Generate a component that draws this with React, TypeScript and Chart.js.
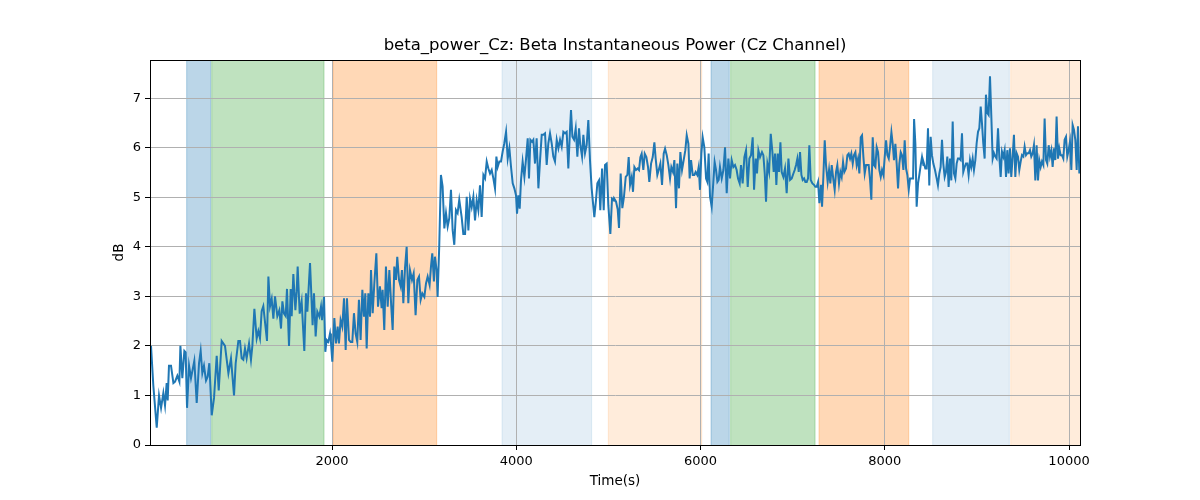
import { useEffect, useRef } from "react";
import { Chart, registerables } from "chart.js";
Chart.register(...registerables);

// time (s) and beta power (dB)
const times = [
  35, 60, 97, 122, 144, 169, 187, 205, 216, 230, 252, 278, 296, 321, 343, 354, 375, 397, 411, 426,
  448, 469, 505, 531, 556, 574, 592, 610, 632, 650, 668, 694, 719, 748, 770, 802, 838, 875, 903, 936,
  954, 983, 1001, 1019, 1037, 1055, 1073, 1099, 1120, 1135, 1157, 1182, 1200, 1218, 1236, 1254, 1294, 1309, 1327, 1345,
  1363, 1381, 1406, 1428, 1446, 1461, 1479, 1497, 1511, 1533, 1551, 1562, 1580, 1602, 1616, 1627, 1649, 1670, 1699,
  1717, 1732, 1761, 1789, 1804, 1822, 1840, 1862, 1880, 1891, 1913, 1927, 1941, 1960, 1978, 1988, 2003, 2025, 2043, 2061,
  2075, 2093, 2111, 2130, 2148, 2162, 2184, 2202, 2220, 2238, 2256, 2274, 2292, 2310, 2329, 2347, 2361, 2376, 2394, 2412,
  2423, 2441, 2459, 2481, 2499, 2520, 2538, 2549, 2567, 2585, 2604, 2622, 2643, 2658, 2676, 2694, 2708, 2727, 2745, 2759,
  2774, 2792, 2810, 2828, 2846, 2868, 2886, 2907, 2926, 2944, 2962, 2980, 3002, 3020, 3038, 3059, 3074, 3088, 3106, 3117,
  3135, 3146, 3164, 3182, 3200, 3219, 3237, 3255, 3273, 3291, 3309, 3327, 3345, 3363, 3381,
  3389, 3407, 3425, 3444, 3462, 3480, 3498, 3516, 3534, 3552, 3570, 3588, 3606, 3624, 3643, 3661, 3679, 3697, 3715, 3733,
  3751, 3769, 3784, 3798, 3816, 3834, 3852, 3870, 3889, 3907, 3925, 3943, 3961, 3979, 3997, 4008, 4022, 4037, 4051, 4069,
  4088, 4106, 4124, 4138, 4153, 4171, 4185, 4203, 4221, 4240, 4258, 4276, 4294, 4312, 4330, 4348, 4366, 4384, 4402, 4420,
  4439, 4457, 4475, 4493, 4511, 4529, 4547, 4565, 4583, 4594, 4609, 4627, 4645, 4663, 4681, 4695, 4714, 4728, 4746, 4764,
  4782, 4800, 4818, 4847, 4865, 4880, 4898, 4912, 4931, 4949, 4963, 4981, 4999, 5021, 5039, 5057,
  5061, 5083, 5101, 5115, 5133, 5151, 5169, 5188, 5206, 5220, 5235, 5253, 5267, 5282, 5300, 5318, 5332, 5347, 5361, 5379,
  5394, 5412, 5430, 5444, 5463, 5481, 5499, 5513, 5531, 5546, 5564, 5582, 5600, 5615, 5633, 5651, 5669, 5683, 5701, 5716,
  5734, 5748, 5766, 5781, 5799, 5817, 5835, 5850, 5868, 5882, 5897, 5915, 5933, 5947, 5965, 5980, 5994, 6009, 6023, 6041,
  6060, 6074, 6088, 6103, 6121, 6139, 6153, 6168, 6183, 6197, 6211, 6230, 6248, 6266, 6284, 6302, 6320, 6338, 6356, 6374,
  6392, 6407, 6425, 6439, 6457, 6476, 6494, 6512, 6530, 6548, 6566, 6581, 6599, 6613, 6628, 6646, 6667, 6682,
  6697, 6711, 6726, 6744, 6762, 6780, 6794, 6809, 6823, 6838, 6852, 6867, 6881, 6899, 6917, 6935, 6954, 6972, 6990, 7008,
  7022, 7037, 7051, 7066, 7080, 7095, 7109, 7124, 7138, 7153, 7167, 7181, 7196, 7214, 7232, 7247, 7261, 7276, 7290, 7308,
  7319, 7333, 7348, 7362, 7380, 7395, 7409, 7424, 7442, 7456, 7471, 7485, 7503, 7518, 7532, 7547, 7561, 7579, 7594, 7608,
  7623, 7637, 7652, 7666, 7681, 7695, 7710, 7724, 7739, 7753, 7768, 7782, 7797, 7811, 7825, 7840, 7854, 7869, 7883, 7898,
  7912, 7927, 7941, 7956, 7970, 7985, 7999, 8014, 8028, 8043, 8057, 8072, 8086, 8100, 8115, 8129, 8144, 8158, 8173, 8187,
  8202, 8216, 8231, 8245, 8260, 8274, 8292, 8307, 8318, 8332, 8346, 8361, 8375, 8390, 8404, 8419,
  8425, 8440, 8454, 8469, 8483, 8498, 8512, 8527, 8545, 8563, 8577, 8592, 8606, 8621, 8635, 8650, 8664, 8679, 8693, 8708,
  8722, 8737, 8751, 8766, 8780, 8794, 8809, 8823, 8838, 8852, 8867, 8881, 8896, 8910, 8925, 8939, 8954, 8968, 8983, 8997,
  9012, 9026, 9041, 9055, 9069, 9084, 9098, 9113, 9127, 9142, 9156, 9171, 9185, 9200, 9214, 9229, 9243, 9258, 9272, 9287,
  9301, 9316, 9330, 9344, 9359, 9373, 9388, 9402, 9417, 9431, 9446, 9460, 9475, 9489, 9504, 9518, 9533, 9547, 9562, 9576,
  9590, 9605, 9619, 9634, 9648, 9663, 9677, 9692, 9706, 9721, 9735, 9750, 9764, 9779, 9793, 9808, 9822, 9837, 9851, 9865,
  9880, 9894, 9909, 9923, 9938, 9952, 9967, 9981, 9996, 10010, 10025, 10039, 10054, 10068, 10083, 10097, 10112,
];

const dbValues = [
  2.0, 1.2, 0.35, 1.0, 0.75, 1.05, 0.8, 1.25, 0.9, 1.6, 1.6, 1.25, 1.28, 1.4, 1.28, 2.0, 1.35, 1.9, 1.87, 0.75,
  1.6, 1.35, 1.7, 0.85, 1.65, 1.9, 1.45, 1.6, 1.3, 1.38, 1.65, 0.6, 0.95, 1.8, 1.1, 2.1, 2.0, 1.45, 1.75, 1.0,
  1.65, 2.1, 2.1, 1.75, 1.72, 1.95, 1.75, 2.05, 1.72, 2.0, 2.75, 2.15, 2.3, 2.15, 2.7, 2.8, 2.1, 3.4, 2.8, 2.95,
  2.55, 3.0, 2.6, 2.72, 2.35, 2.9, 2.65, 2.6, 3.15, 2.0, 3.15, 2.6, 3.45, 2.72, 3.1, 3.6, 2.65, 2.9, 1.9,
  3.06, 2.69, 3.67, 2.42, 3.06, 2.19, 2.69, 2.59, 2.79, 2.52, 2.99, 1.88, 2.12, 2.08, 2.25, 2.08, 1.68, 2.56, 2.05, 2.39,
  2.05, 2.52, 2.39, 2.96, 1.92, 2.96, 2.12, 2.08, 2.08, 2.66, 2.25, 2.08, 2.93, 2.12, 3.13, 2.59, 3.06, 1.95, 3.06, 2.59,
  3.53, 2.66, 3.26, 3.87, 2.79, 3.2, 2.76, 3.13, 2.32, 3.6, 2.79, 3.53, 2.79, 2.32, 3.6, 3.33, 3.8, 3.33, 3.2, 3.53,
  2.86, 3.57, 4.0, 2.86, 3.53, 3.33, 3.46, 2.62, 3.33, 3.4, 2.93, 3.06, 2.99, 3.26, 3.4, 3.23, 3.6, 3.87, 3.3, 3.8,
  3.53, 2.99, 4.04, 5.45, 5.22, 4.37, 4.68, 4.41, 4.58, 5.15, 4.34, 4.04, 4.74, 4.68, 4.95,
  4.84, 4.6, 4.26, 4.26, 5.01, 4.33, 4.97, 4.8, 5.01, 4.53, 4.94, 4.74, 5.24, 4.6, 5.45, 5.38, 5.72, 5.58, 5.48, 5.55,
  5.38, 5.18, 5.82, 5.61, 5.72, 5.72, 5.92, 6.09, 6.32, 5.78, 5.99, 5.61, 5.28, 5.18, 5.04, 4.67, 5.04, 4.77, 5.34, 5.72,
  5.41, 5.78, 6.19, 5.38, 6.16, 6.12, 6.16, 5.68, 6.19, 5.18, 5.75, 6.26, 6.26, 6.29, 5.65, 6.09, 6.29, 6.09, 5.82, 5.72,
  6.16, 5.99, 6.16, 6.02, 6.32, 6.29, 6.32, 5.58, 6.36, 6.76, 6.22, 6.16, 6.39, 5.82, 6.39, 6.05, 5.82, 6.26, 5.89, 6.05,
  6.56, 5.75, 5.18, 4.6, 4.94, 5.28, 5.34, 4.74, 5.58, 4.74, 5.65, 5.68, 4.84, 4.26, 4.97, 4.94,
  4.98, 4.91, 4.75, 4.38, 5.48, 4.78, 5.01, 5.41, 5.45, 5.81, 5.25, 5.41, 5.11, 5.61, 5.55, 5.58, 5.55, 5.81, 5.88, 5.55,
  5.88, 5.81, 5.61, 5.31, 5.68, 5.81, 6.11, 5.78, 5.45, 5.55, 5.68, 5.25, 5.88, 5.98, 5.85, 5.65, 5.38, 5.61, 5.51, 5.75,
  4.78, 5.68, 5.18, 5.91, 5.55, 5.75, 5.95, 6.25, 6.08, 5.38, 5.75, 5.45, 5.45, 5.51, 5.45, 5.61, 5.15, 5.88, 6.21, 6.01,
  5.38, 5.31, 5.88, 5.01, 4.81, 5.31, 5.71, 5.55, 5.31, 5.35, 5.61, 5.38, 5.55, 6.01, 5.08, 5.78, 5.38, 5.75, 5.61, 5.65,
  5.55, 5.38, 5.28, 5.65, 5.28, 5.81, 5.95, 5.21, 5.78, 5.85, 6.21, 5.15, 5.78, 5.48, 5.95, 5.81, 5.91, 5.85,
  5.48, 4.91, 5.68, 5.51, 6.28, 5.91, 5.51, 5.88, 5.25, 5.88, 5.51, 6.11, 5.51, 5.41, 5.58, 5.08, 5.78, 5.35, 5.38, 5.48,
  5.55, 5.65, 5.78, 5.51, 5.91, 5.45, 5.35, 5.38, 5.31, 5.31, 5.38, 6.05, 5.35, 5.28, 5.25, 5.21, 5.21, 5.31, 4.88, 5.25,
  4.81, 5.41, 6.15, 5.65, 5.31, 5.55, 5.28, 5.65, 5.35, 5.15, 5.51, 5.65, 5.28, 5.51, 5.41, 5.71, 5.51, 5.58, 5.85, 5.88,
  5.78, 5.88, 5.68, 5.85, 5.91, 5.65, 5.78, 5.48, 6.21, 6.25, 5.81, 5.48, 5.65, 5.65, 5.65, 5.35, 4.95, 6.21, 5.65, 5.61,
  6.01, 5.91, 5.55, 5.41, 5.55, 5.45, 5.81, 6.15, 5.85, 5.78, 6.01, 6.31, 6.08, 5.75, 6.08, 5.68, 5.18, 5.68, 5.91, 5.85,
  5.55, 6.15, 5.58, 5.45, 5.15, 5.38, 5.38, 5.38, 6.58, 6.08, 4.81, 5.28, 5.45, 5.65, 5.81, 5.65,
  5.68, 5.58, 5.58, 6.39, 5.24, 6.22, 5.85, 5.68, 5.55, 5.38, 5.24, 5.48, 5.61, 6.16, 5.68, 5.41, 5.51, 5.82, 5.21, 5.78,
  5.34, 6.53, 5.48, 5.38, 5.68, 5.78, 5.78, 5.75, 6.29, 5.51, 5.61, 5.68, 5.68, 5.45, 5.75, 5.61, 5.78, 5.55, 5.75, 6.09,
  6.32, 6.39, 6.83, 6.49, 6.09, 5.78, 7.07, 6.7, 6.66, 7.44, 6.66, 5.78, 5.89, 5.82, 5.78, 6.39, 5.82, 5.41, 5.92, 5.82,
  5.95, 5.41, 5.95, 5.48, 5.99, 5.41, 5.82, 6.26, 5.41, 5.89, 5.82, 5.55, 5.72, 5.85, 5.82, 6.02, 5.85, 5.89, 5.89, 5.95,
  5.82, 5.89, 6.05, 5.34, 6.05, 5.34, 5.75, 5.61, 5.72, 5.65, 6.59, 5.75, 5.68, 6.05, 5.82, 5.95, 5.61, 5.99, 5.75, 6.63,
  5.78, 5.99, 5.85, 5.85, 5.78, 6.16, 6.22, 5.82, 5.95, 6.12, 5.55, 6.46, 6.36, 6.16, 5.55, 6.43, 5.48,
];

// shaded condition blocks (s)
const spanStarts = [422, 694, 2014, 3845, 4999, 6114, 6327, 7286, 8520, 9367];
const spanEnds = [683, 1913, 3136, 4818, 6013, 6312, 7243, 8260, 9352, 10200];
const spanColors = [
  "rgba(31,119,180,0.3)",
  "rgba(44,160,44,0.3)",
  "rgba(255,127,14,0.3)",
  "rgba(31,119,180,0.12)",
  "rgba(255,127,14,0.15)",
  "rgba(31,119,180,0.3)",
  "rgba(44,160,44,0.3)",
  "rgba(255,127,14,0.3)",
  "rgba(31,119,180,0.12)",
  "rgba(255,127,14,0.15)",
];

const xTicks = [2000, 4000, 6000, 8000, 10000];
const yTicks = [0, 1, 2, 3, 4, 5, 6, 7];

const chartTitle = "beta_power_Cz: Beta Instantaneous Power (Cz Channel)";
const FONT = "'DejaVu Sans', sans-serif";

const decorPlugin = {
  id: "decor",
  beforeDraw(chart: any) {
    const { ctx, chartArea: a, scales } = chart;
    ctx.save();
    ctx.beginPath();
    ctx.rect(a.left, a.top, a.right - a.left, a.bottom - a.top);
    ctx.clip();
    spanStarts.forEach((s, i) => {
      const x0 = scales.x.getPixelForValue(s);
      const x1 = scales.x.getPixelForValue(spanEnds[i]);
      ctx.fillStyle = spanColors[i];
      ctx.fillRect(x0, a.top, x1 - x0, a.bottom - a.top);
      ctx.strokeStyle = spanColors[i];
      ctx.lineWidth = 1;
      ctx.beginPath();
      ctx.moveTo(x0, a.top);
      ctx.lineTo(x0, a.bottom);
      ctx.moveTo(x1, a.top);
      ctx.lineTo(x1, a.bottom);
      ctx.stroke();
    });
    ctx.restore();
  },
  afterDraw(chart: any) {
    const { ctx, chartArea: a } = chart;
    ctx.save();
    // spines
    ctx.strokeStyle = "#000";
    ctx.lineWidth = 1;
    ctx.strokeRect(Math.round(a.left) + 0.5, Math.round(a.top) + 0.5, Math.round(a.right - a.left), Math.round(a.bottom - a.top));
    ctx.fillStyle = "#000";
    ctx.textAlign = "center";
    ctx.textBaseline = "middle";
    ctx.font = `16.5px ${FONT}`;
    ctx.fillText(chartTitle, (a.left + a.right) / 2, 46);
    ctx.font = `13.5px ${FONT}`;
    ctx.fillText("Time(s)", (a.left + a.right) / 2, 481);
    ctx.translate(119, (a.top + a.bottom) / 2);
    ctx.rotate(-Math.PI / 2);
    ctx.fillText("dB", 0, 0);
    ctx.restore();
  },
};

const App = () => {
  const chartRef = useRef<HTMLCanvasElement | null>(null);
  const chartInstance = useRef<Chart | null>(null);

  useEffect(() => {
    document.body.style.margin = "0";
    if (!chartRef.current) return;
    const ctx = chartRef.current.getContext("2d");
    if (!ctx) return;
    if (chartInstance.current) chartInstance.current.destroy();

    chartInstance.current = new Chart(ctx, {
      type: "line",
      data: {
        datasets: [
          {
            label: "beta_power_Cz",
            data: times.map((t, i) => ({ x: t, y: dbValues[i] })),
            borderColor: "#1f77b4",
            borderWidth: 2,
            pointRadius: 0,
            tension: 0,
            fill: false,
          },
        ],
      },
      options: {
        responsive: false,
        animation: false,
        devicePixelRatio: 1,
        layout: { padding: { left: 0, top: 60, right: 120, bottom: 0 } },
        plugins: {
          legend: { display: false },
          tooltip: { enabled: false },
          title: { display: false },
        },
        scales: {
          x: {
            type: "linear",
            min: 24,
            max: 10119,
            afterFit: (s: any) => {
              s.height = 55;
            },
            afterBuildTicks: (s: any) => {
              s.ticks = xTicks.map((v) => ({ value: v }));
            },
            grid: { color: "#b0b0b0", lineWidth: 1, tickColor: "#000", tickLength: 5 },
            border: { display: true, color: "#000", width: 1 },
            ticks: {
              color: "#000",
              font: { family: FONT, size: 13 },
              padding: 4,
              maxRotation: 0,
              callback: (v: any) => String(v),
            },
          },
          y: {
            type: "linear",
            min: 0,
            max: 7.77,
            afterFit: (s: any) => {
              s.width = 150;
            },
            afterBuildTicks: (s: any) => {
              s.ticks = yTicks.map((v) => ({ value: v }));
            },
            grid: { color: "#b0b0b0", lineWidth: 1, tickColor: "#000", tickLength: 5 },
            border: { display: true, color: "#000", width: 1 },
            ticks: {
              color: "#000",
              font: { family: FONT, size: 13 },
              padding: 4,
              callback: (v: any) => String(v),
            },
          },
        },
      },
      plugins: [decorPlugin],
    });

    return () => {
      if (chartInstance.current) {
        chartInstance.current.destroy();
        chartInstance.current = null;
      }
    };
  }, []);

  return (
    <div style={{ width: 1200, height: 500 }}>
      <canvas ref={chartRef} width={1200} height={500} style={{ width: 1200, height: 500 }}></canvas>
    </div>
  );
};

export default App;
